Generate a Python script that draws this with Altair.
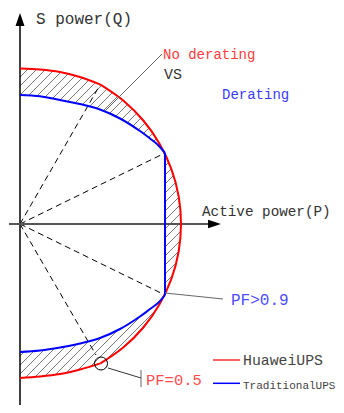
import altair as alt
import pandas as pd
import numpy as np

# ---------------- data (P = active power, Q = S power) ----------------
red_top_P = [0, 20, 40, 60, 80.5]
red_top_Q = [155.5, 154.5, 152, 147, 139.4]
red_arc_P = [80.5, 103.5, 123.3, 139.4, 151.3, 158.6, 161, 158.6, 151.3, 139.4, 123.3, 103.5, 80.5]
red_arc_Q = [139.4, 123.3, 103.5, 80.5, 55.1, 28, 0, -28, -55.1, -80.5, -103.5, -123.3, -139.4]
red_bot_P = [80.5, 60, 40, 20, 0]
red_bot_Q = [-139.4, -145.5, -150, -152.5, -154]

blue_top_P = [0, 20, 40, 60, 80, 100, 120, 130, 138, 145]
blue_top_Q = [129, 127.7, 124, 120, 114.5, 105.5, 93, 85.5, 79, 71]
blue_mid_P = [145, 145]
blue_mid_Q = [71, -71]
blue_bot_P = [145, 138, 130, 120, 100, 80, 60, 40, 20, 0]
blue_bot_Q = [-71, -79, -85, -92.5, -105, -114, -119.5, -123.5, -126.5, -128]

# dashed rays from the origin to these power-factor points
ray_P = [80.5, 145, 145, 76]
ray_Q = [140, 71, -71, -131]

# text labels
labels = ["S power(Q)", "No derating", "VS", "Derating", "Active power(P)",
          "PF>0.9", "PF=0.5", "HuaweiUPS", "TraditionalUPS"]
label_P = [16, 143, 144, 202, 182, 211, 126, 223, 223]
label_Q = [200, 165, 145, 125, 8, -81, -161, -141, -165]
label_size = [16, 14, 15, 14, 14.3, 16, 15.5, 14.8, 11]
label_color = ["#333333", "#ff3b3b", "#333333", "#3a3aff", "#333333",
               "#4d4dff", "#ff4d4d", "#444444", "#444444"]

legend_names = ["HuaweiUPS", "TraditionalUPS"]
legend_colors = ["#ff3030", "#0000ff"]

# ---------------- build tables ----------------
def seg(Ps, Qs, name, color):
    return pd.DataFrame({"P": Ps, "Q": Qs, "seg": name, "ord": range(len(Ps)), "c": color})

curves = pd.concat([
    seg(red_top_P, red_top_Q, "r1", "#ff0000"),
    seg(red_arc_P, red_arc_Q, "r2", "#ff0000"),
    seg(red_bot_P, red_bot_Q, "r3", "#ff0000"),
    seg(blue_top_P, blue_top_Q, "b1", "#0000ff"),
    seg(blue_mid_P, blue_mid_Q, "b2", "#0000ff"),
    seg(blue_bot_P, blue_bot_Q, "b3", "#0000ff"),
], ignore_index=True)

# hatch between the two curves, derived from the curve arrays
redP = np.array(red_top_P + red_arc_P[1:] + red_bot_P[1:])
redQ = np.array(red_top_Q + red_arc_Q[1:] + red_bot_Q[1:])
o = np.argsort(redQ)
rQ, rP = redQ[o], redP[o]
blueP = np.array(blue_bot_P[::-1] + blue_top_P[::-1])
blueQ = np.array(blue_bot_Q[::-1] + blue_top_Q[::-1])
o = np.argsort(blueQ, kind="stable")
bQ, bP = blueQ[o], blueP[o]

hatch_rows = []
Ps = np.arange(0, 166, 0.2)
for c in np.arange(-330, 170, 9.0):
    Qs = Ps + c
    pr = np.interp(Qs, rQ, rP, left=-1, right=-1)
    pb = np.interp(Qs, bQ, bP, left=0, right=0)
    m = (Ps <= pr) & (Ps >= pb)
    if not m.any():
        continue
    idx = np.where(m)[0]
    splits = np.where(np.diff(idx) > 1)[0]
    starts = np.concatenate([[idx[0]], idx[splits + 1]])
    ends = np.concatenate([idx[splits], [idx[-1]]])
    for s, e in zip(starts, ends):
        if e - s >= 2:
            hatch_rows.append({"P": float(Ps[s]), "Q": float(Qs[s]),
                               "P2": float(Ps[e]), "Q2": float(Qs[e])})
hatch = pd.DataFrame(hatch_rows)

rays = pd.DataFrame({"P": [0] * len(ray_P), "Q": [0] * len(ray_Q), "P2": ray_P, "Q2": ray_Q})
texts = pd.DataFrame({"t": labels, "P": label_P, "Q": label_Q, "s": label_size, "c": label_color})

# ---------------- scales (1 data unit = 1 px) ----------------
W, H = 328, 397
xs = alt.Scale(domain=[-12, 316], nice=False, zero=False)
ys = alt.Scale(domain=[-181, 216], nice=False, zero=False)
X = lambda f: alt.X(f, type="quantitative", scale=xs, axis=None)
Y = lambda f: alt.Y(f, type="quantitative", scale=ys, axis=None)

hatch_l = alt.Chart(hatch).mark_rule(color="#777777", strokeWidth=1).encode(
    x=X("P"), y=Y("Q"), x2=alt.X2("P2"), y2=alt.Y2("Q2"))

ray_l = alt.Chart(rays).mark_rule(color="#000000", strokeWidth=1, strokeDash=[6, 4]).encode(
    x=X("P"), y=Y("Q"), x2=alt.X2("P2"), y2=alt.Y2("Q2"))

axes_df = pd.DataFrame({"P": [0, -11], "Q": [-181, 0], "P2": [0, 190], "Q2": [198, 0],
                        "c": ["#000000", "#555555"], "w": [1.5, 2]})
axes_l = alt.Chart(axes_df).mark_rule().encode(
    x=X("P"), y=Y("Q"), x2=alt.X2("P2"), y2=alt.Y2("Q2"),
    color=alt.Color("c:N", scale=None), strokeWidth=alt.StrokeWidth("w:Q", scale=None))

arrow_up = alt.Chart(pd.DataFrame({"P": [0], "Q": [204.5]})).mark_point(
    shape="M0,-1L0.7,1L-0.7,1Z", size=165, filled=True, color="#000000", opacity=1).encode(
    x=X("P"), y=Y("Q"))
arrow_right = alt.Chart(pd.DataFrame({"P": [194.5], "Q": [0]})).mark_point(
    shape="M1,0L-1,0.66L-1,-0.66Z", size=165, filled=True, color="#000000", opacity=1).encode(
    x=X("P"), y=Y("Q"))

curve_l = alt.Chart(curves).mark_line(strokeWidth=2, interpolate="catmull-rom").encode(
    x=X("P"), y=Y("Q"), detail="seg:N", order="ord:Q",
    color=alt.Color("c:N", scale=None))

leaders = pd.DataFrame({"P": [85, 145, 88, 121], "Q": [113, -69, -144, -146],
                        "P2": [142, 203, 121, 121], "Q2": [170, -75, -154, -163],
                        "c": ["#666666", "#666666", "#333333", "#666666"]})
leader_l = alt.Chart(leaders).mark_rule(strokeWidth=1).encode(
    x=X("P"), y=Y("Q"), x2=alt.X2("P2"), y2=alt.Y2("Q2"), color=alt.Color("c:N", scale=None))

circle_l = alt.Chart(pd.DataFrame({"P": [81], "Q": [-139.5]})).mark_point(
    shape="circle", size=169, filled=False, color="#000000", strokeWidth=1, opacity=1).encode(
    x=X("P"), y=Y("Q"))

leg = pd.DataFrame({"P": [193, 193], "Q": [-136, -159.3], "P2": [220, 220], "Q2": [-136, -159.3],
                    "c": legend_colors, "n": legend_names})
leg_l = alt.Chart(leg).mark_rule(strokeWidth=1.5).encode(
    x=X("P"), y=Y("Q"), x2=alt.X2("P2"), y2=alt.Y2("Q2"), color=alt.Color("c:N", scale=None))

text_l = alt.Chart(texts).mark_text(align="left", baseline="alphabetic", font="Liberation Mono").encode(
    x=X("P"), y=Y("Q"), text="t:N",
    size=alt.Size("s:Q", scale=None), color=alt.Color("c:N", scale=None))

chart = alt.layer(hatch_l, ray_l, axes_l, curve_l, leader_l, circle_l, arrow_up, arrow_right,
                  leg_l, text_l).properties(
    width=W, height=H, padding=0, autosize=alt.AutoSizeParams(type="none"),
    background="#ffffff"
).configure_view(stroke=None)

chart.save("out.html", embed_options={"renderer": "svg", "actions": False})
